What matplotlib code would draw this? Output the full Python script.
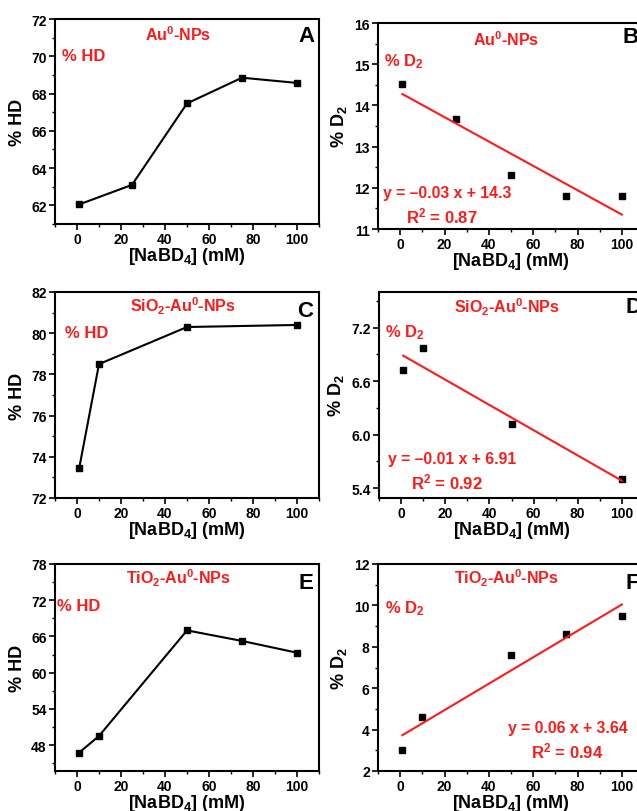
import numpy as np
import matplotlib
matplotlib.use("Agg")
import matplotlib.pyplot as plt
from matplotlib.ticker import MultipleLocator

plt.rcParams["font.family"] = ["Liberation Sans", "DejaVu Sans"]
plt.rcParams["font.weight"] = "bold"
plt.rcParams["mathtext.fontset"] = "custom"
plt.rcParams["mathtext.rm"] = "Liberation Sans:bold"
plt.rcParams["mathtext.it"] = "Liberation Sans:bold"
plt.rcParams["mathtext.bf"] = "Liberation Sans:bold"

# ---- data ----
conc_a = [1, 25, 50, 75, 100]
hd_a = [62.05, 63.1, 67.47, 68.85, 68.57]
conc_b = [1, 25, 50, 75, 100]
d2_b = [14.52, 13.68, 12.32, 11.8, 11.79]

conc_c = [1, 10, 50, 100]
hd_c = [73.45, 78.5, 80.3, 80.4]
conc_d = [1, 10, 50, 100]
d2_d = [6.73, 6.97, 6.12, 5.50]

conc_e = [1, 10, 50, 75, 100]
hd_e = [46.75, 49.5, 67.0, 65.25, 63.3]
conc_f = [1, 10, 50, 75, 100]
d2_f = [3.03, 4.6, 7.62, 8.62, 9.51]

catalysts = [r"Au$^{0}$-NPs", r"SiO$_{2}$-Au$^{0}$-NPs", r"TiO$_{2}$-Au$^{0}$-NPs"]
fit_labels = [
    ("y = \u20130.03 x + 14.3", r"R$^{2}$ = 0.87"),
    ("y = \u20130.01 x + 6.91", r"R$^{2}$ = 0.92"),
    ("y = 0.06 x + 3.64", r"R$^{2}$ = 0.94"),
]

RED = "#ff1a1a"
W, H = 637, 812
fig = plt.figure(figsize=(W / 100, H / 100), dpi=100)


def px_axes(l, t, r, b):
  return fig.add_axes([l / W, 1 - b / H, (r - l) / W, (b - t) / H])


def style(ax, ylim, ymaj, ymin):
  ax.set_xlim(-10, 110)
  ax.set_ylim(*ylim)
  ax.xaxis.set_major_locator(MultipleLocator(20))
  ax.xaxis.set_minor_locator(MultipleLocator(10))
  ax.yaxis.set_major_locator(MultipleLocator(ymaj))
  ax.yaxis.set_minor_locator(MultipleLocator(ymin))
  ax.tick_params(which="major", direction="out", length=4, width=1.2, labelsize=10, pad=2)
  ax.tick_params(which="minor", direction="out", length=2.5, width=1.0)
  for s in ax.spines.values():
    s.set_linewidth(1.5)
  for lab in ax.get_xticklabels() + ax.get_yticklabels():
    lab.set_fontweight("bold")
  ax.set_xlabel(r"[NaBD$_{4}$] (mM)", fontsize=13, fontweight="bold", labelpad=-1)


def hd_panel(ax, x, y, ylim, ymaj, ymin, title, letter, tpos, hpos, lpos):
  ax.plot(x, y, color="black", lw=1.5, marker="s", ms=5)
  style(ax, ylim, ymaj, ymin)
  ax.set_ylabel("% HD", fontsize=13, fontweight="bold", labelpad=4)
  ax.text(*tpos, title, transform=ax.transAxes, color=RED, fontsize=11.5,
          ha="center", va="center")
  ax.text(*hpos, "% HD", transform=ax.transAxes, color=RED, fontsize=12,
          ha="left", va="center")
  ax.text(*lpos, letter, transform=ax.transAxes, color="black", fontsize=16,
          ha="center", va="center")


def d2_panel(ax, x, y, ylim, ymaj, ymin, title, letter, fit, tpos, dpos, lpos, epos, rpos):
  ax.plot(x, y, ls="none", color="black", marker="s", ms=5)
  k, c = np.polyfit(x, y, 1)
  xs = np.array([x[0], x[-1]])
  ax.plot(xs, k * xs + c, color=RED, lw=1.5)
  style(ax, ylim, ymaj, ymin)
  ax.set_ylabel(r"% D$_{2}$", fontsize=13, fontweight="bold", labelpad=4)
  ax.text(*tpos, title, transform=ax.transAxes, color=RED, fontsize=11.5,
          ha="center", va="center")
  ax.text(*dpos, r"% D$_{2}$", transform=ax.transAxes, color=RED, fontsize=12,
          ha="left", va="center")
  ax.text(*lpos, letter, transform=ax.transAxes, color="black", fontsize=16,
          ha="left", va="center")
  ax.text(*epos, fit[0], transform=ax.transAxes, color=RED, fontsize=11.3,
          ha="left", va="center")
  ax.text(*rpos, fit[1], transform=ax.transAxes, color=RED, fontsize=12,
          ha="left", va="center")


# row 1
ax_a = px_axes(55, 20, 319, 225)
hd_panel(ax_a, conc_a, hd_a, (61, 72), 2, 1, catalysts[0], "A",
         (0.466, 0.927), (0.027, 0.82), (0.951, 0.92))
ax_b = px_axes(378, 24, 644, 230)
d2_panel(ax_b, conc_b, d2_b, (11, 16), 1, 0.5, catalysts[0], "B", fit_labels[0],
         (0.481, 0.924), (0.023, 0.817), (0.921, 0.933),
         (0.018, 0.175), (0.105, 0.065))

# row 2
ax_c = px_axes(55, 293, 319, 499)
hd_panel(ax_c, conc_c, hd_c, (72, 82), 2, 1, catalysts[1], "C",
         (0.483, 0.935), (0.038, 0.805), (0.947, 0.908))
ax_d = px_axes(379, 293, 644, 499)
d2_panel(ax_d, conc_d, d2_d, (5.29, 7.6), 0.6, 0.3, catalysts[1], "D", fit_labels[1],
         (0.482, 0.93), (0.024, 0.807), (0.93, 0.928),
         (0.034, 0.19), (0.122, 0.081))

# row 3
ax_e = px_axes(55, 565, 319, 772)
hd_panel(ax_e, conc_e, hd_e, (43.7, 78), 6, 3, catalysts[2], "E",
         (0.469, 0.936), (0.006, 0.80), (0.951, 0.911))
ax_f = px_axes(378, 565, 644, 772)
d2_panel(ax_f, conc_f, d2_f, (2, 12), 2, 1, catalysts[2], "F", fit_labels[2],
         (0.484, 0.934), (0.028, 0.79), (0.93, 0.91),
         (0.487, 0.21), (0.575, 0.10))

fig.savefig("out.png", dpi=100, facecolor="white")
